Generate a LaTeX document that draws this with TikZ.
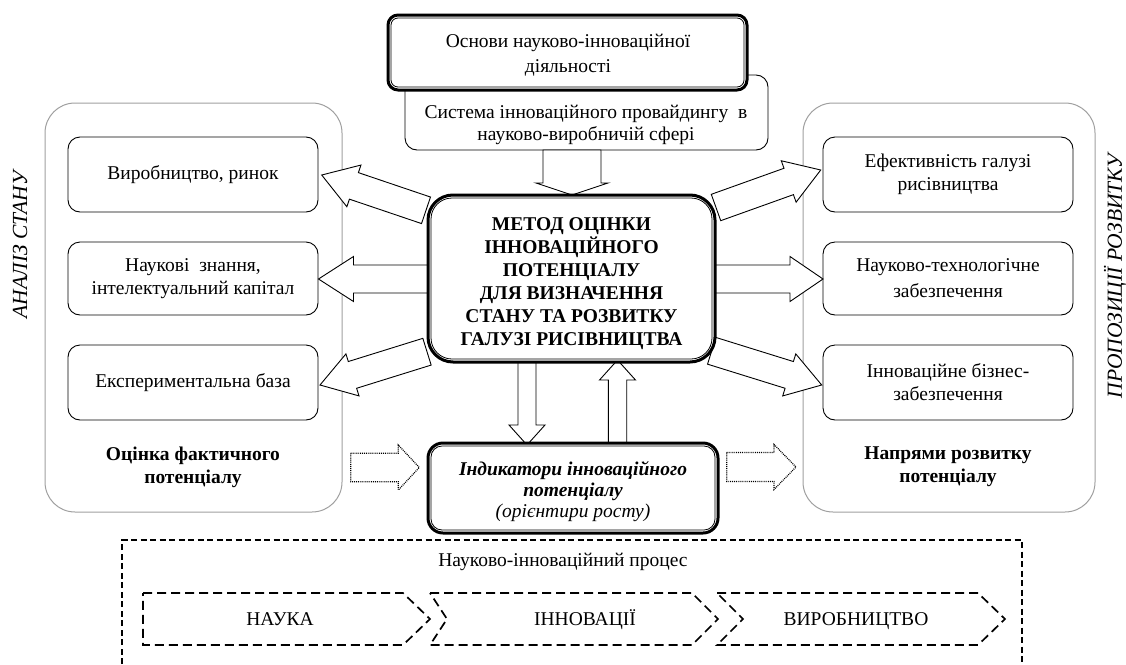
\documentclass[tikz,border=0pt]{standalone}
\usepackage{fontspec}
\setmainfont{Liberation Serif}
\usetikzlibrary{calc}
\newcommand\blockarrow[6][]{%
  \coordinate (hb) at ($(#3)!#6!(#2)$);
  \draw[arr,#1] ($(#2)!#4!90:(#3)$) -- ($(hb)!#4!90:(#3)$) -- ($(hb)!#5!90:(#3)$) -- (#3) -- ($(hb)!#5!-90:(#3)$) -- ($(hb)!#4!-90:(#3)$) -- ($(#2)!#4!-90:(#3)$) -- cycle;}
\newcommand\innerline[2]{%
  \draw[line width=0.8pt, rounded corners=#2] ([shift={(4.5,4.5)}]#1.north west) rectangle ([shift={(-4.5,-4.5)}]#1.south east);}
\begin{document}
\begin{tikzpicture}[x=1pt,y=-1pt,
  box/.style={draw, line width=0.9pt, rounded corners=12pt, fill=white, align=center, inner sep=0pt},
  bigbox/.style={draw=gray!75, line width=1pt, rounded corners=30pt},
  arr/.style={draw, line width=0.9pt, fill=white, line join=miter},
  thickbox/.style={draw, line width=3pt, fill=white, align=center, inner sep=0pt},
  lbl/.style={align=center, inner sep=0pt},
  side/.style={lbl, rotate=90, font=\fontsize{21.5}{24}\selectfont\itshape},
  chevlabel/.style={inner sep=0pt, anchor=base},
  chev/.style={line width=1.7pt, dash pattern=on 9pt off 5pt},
  dotarr/.style={densely dotted, line width=1.2pt}]
\fontsize{19.5}{23}\selectfont
\useasboundingbox (0,0) rectangle (1126,664);

% big gray frames
\node[bigbox, minimum width=297pt, minimum height=409pt] (lbig) at (193.5,307.5) {};
\node[bigbox, minimum width=292pt, minimum height=409pt] (rbig) at (949,307.5) {};

% left column
\node[box, minimum width=250pt, minimum height=75pt] (l1) at (193,174.5) {Виробництво, ринок};
\node[box, minimum width=250pt, minimum height=73pt] (l2) at (193,278.5) {Наукові\ \ знання,\\інтелектуальний капітал};
\node[box, minimum width=250pt, minimum height=75pt] (l3) at (193,382.5) {Експериментальна база};
\node[lbl, font=\bfseries] (lt) at (193,467) {Оцінка фактичного\\потенціалу};
\node[side] (ls) at (20,245) {АНАЛІЗ СТАНУ};

% right column
\node[box, minimum width=250pt, minimum height=75pt] (r1) at (948,174.5) {Ефективність галузі\\рисівництва};
\node[box, minimum width=250pt, minimum height=73pt] (r2) at (948,278.5) {Науково-технологічне\\[3pt]забезпечення};
\node[box, minimum width=250pt, minimum height=75pt] (r3) at (948,382.5) {Інноваційне бізнес-\\забезпечення};
\node[lbl, font=\bfseries] (rt) at (948,467) {Напрями розвитку\\потенціалу};
\node[side] (rs) at (1115,276) {ПРОПОЗИЦІЇ РОЗВИТКУ};

% arrows to the side columns
\coordinate (a1s) at (426,210.3); \coordinate (a1t) at (321.7,175);
\coordinate (a2s) at (432,279);   \coordinate (a2t) at (318.5,279);
\coordinate (a3s) at (427,351.7); \coordinate (a3t) at (320,385);
\coordinate (b1s) at (716,207.5); \coordinate (b1t) at (820.7,170);
\coordinate (b2s) at (712,279);   \coordinate (b2t) at (823,279);
\coordinate (b3s) at (711.7,350.8); \coordinate (b3t) at (821.7,385);
\blockarrow{a1s}{a1t}{14pt}{22pt}{34pt}
\blockarrow{a2s}{a2t}{14pt}{22.5pt}{35pt}
\blockarrow{a3s}{a3t}{14pt}{22pt}{34pt}
\blockarrow{b1s}{b1t}{14pt}{22pt}{34pt}
\blockarrow{b2s}{b2t}{14pt}{22.5pt}{33pt}
\blockarrow{b3s}{b3t}{14pt}{22pt}{34pt}

% system box and top box
\node[box, minimum width=363pt, minimum height=75pt] (sys) at (586.5,112.5) {};
\node[lbl, font=\fontsize{19.5}{22}\selectfont] (systxt) at (586,124.5) {Система інноваційного провайдингу\ \ в\\науково-виробничій сфері};
\node[thickbox, rounded corners=10pt, minimum width=359pt, minimum height=75pt] (top) at (567.5,52.5) {};
\innerline{top}{7pt}
\node[lbl, font=\fontsize{19.5}{25}\selectfont] (toptxt) at (568,55) {Основи науково-інноваційної\\діяльності};

% vertical arrows
\coordinate (d0s) at (572,150); \coordinate (d0t) at (572,195);
\blockarrow{d0s}{d0t}{29pt}{36pt}{12pt}
\coordinate (d1s) at (527,362); \coordinate (d1t) at (527,445);
\blockarrow{d1s}{d1t}{9pt}{18pt}{20pt}
\coordinate (u1s) at (617.5,447); \coordinate (u1t) at (617.5,360);
\blockarrow{u1s}{u1t}{9.2pt}{18pt}{20pt}

% main box
\node[thickbox, rounded corners=25pt, minimum width=287pt, minimum height=167pt] (main) at (571.5,278.5) {};
\innerline{main}{21pt}
\node[lbl, font=\bfseries] (maintxt) at (571.5,283.5) {МЕТОД ОЦІНКИ\\ІННОВАЦІЙНОГО\\ПОТЕНЦІАЛУ\\ДЛЯ ВИЗНАЧЕННЯ\\СТАНУ ТА РОЗВИТКУ\\ГАЛУЗІ РИСІВНИЦТВА};

% indicator box
\node[thickbox, rounded corners=15pt, minimum width=290pt, minimum height=90pt] (ind) at (573,488) {};
\innerline{ind}{11pt}
\node[lbl, font=\fontsize{19.5}{21}\selectfont] (indtxt) at (573,492) {\textbf{\textit{Індикатори інноваційного}}\\\textbf{\textit{потенціалу}}\\\textit{(орієнтири росту)}};

% dotted arrows
\coordinate (e1s) at (350.7,467.5); \coordinate (e1t) at (419.3,467.5);
\blockarrow[dotarr]{e1s}{e1t}{14.2pt}{22.5pt}{21pt}
\coordinate (e2s) at (726.7,467); \coordinate (e2t) at (796,467);
\blockarrow[dotarr]{e2s}{e2t}{14.5pt}{22.5pt}{22pt}

% process frame
\draw[line width=1.6pt, dash pattern=on 6pt off 3.5pt] (122,664) -- (122,540) -- (1022,540) -- (1022,664);
\node[lbl] (proc) at (563,562) {Науково-інноваційний процес};
\draw[chev] (143,593) -- (403,593) -- (430,619) -- (403,645) -- (143,645) -- cycle;
\draw[chev] (430,593) -- (692,593) -- (718,619) -- (692,645) -- (430,645) -- (447,619) -- cycle;
\draw[chev] (717,593) -- (978,593) -- (1005,619) -- (978,645) -- (717,645) -- (743,619) -- cycle;
\node[chevlabel] (c1) at (280,625.5) {НАУКА};
\node[chevlabel] (c2) at (585,625.5) {ІННОВАЦІЇ};
\node[chevlabel] (c3) at (856,625.5) {ВИРОБНИЦТВО};
\end{tikzpicture}
\end{document}
